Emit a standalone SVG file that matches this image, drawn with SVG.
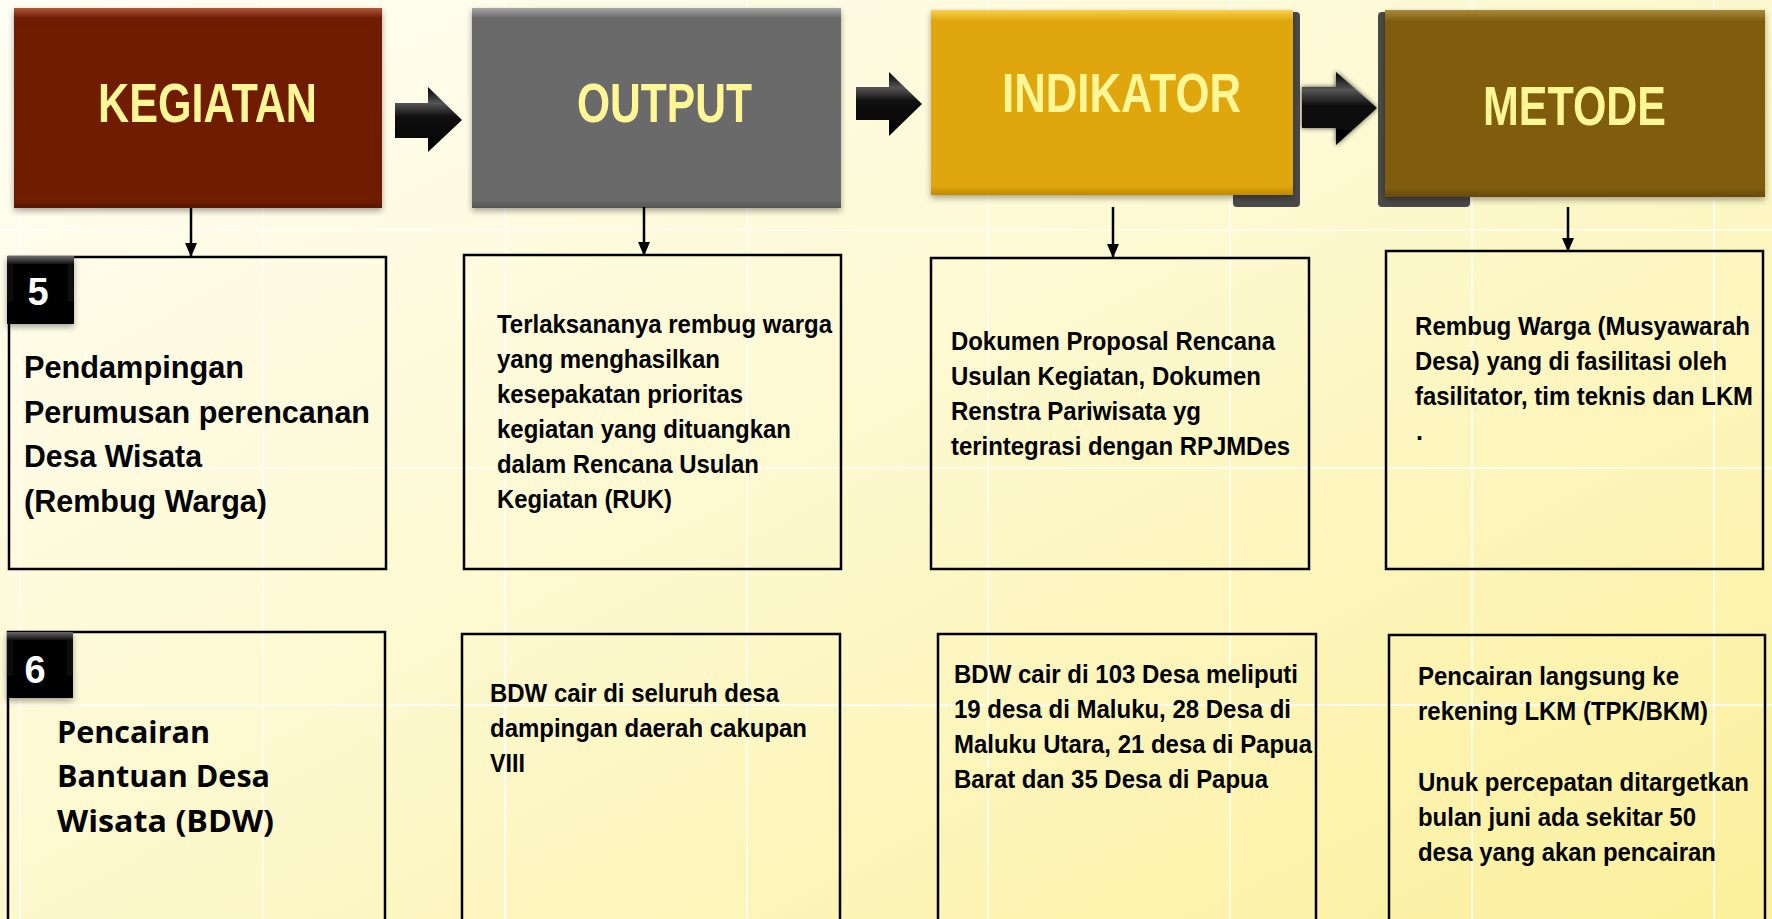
<svg xmlns="http://www.w3.org/2000/svg" width="1772" height="919" viewBox="0 0 1772 919">
<defs>
<linearGradient id="bg" x1="0" y1="0" x2="1" y2="1">
<stop offset="0" stop-color="#fffef5"/>
<stop offset="0.45" stop-color="#fdf9d2"/>
<stop offset="1" stop-color="#fcf09c"/>
</linearGradient>
<linearGradient id="gK" x1="0" y1="0" x2="0" y2="1">
<stop offset="0" stop-color="#b0583a"/><stop offset="0.05" stop-color="#6f1d05"/><stop offset="0.96" stop-color="#6f1d05"/><stop offset="1" stop-color="#5a1604"/>
</linearGradient>
<linearGradient id="gO" x1="0" y1="0" x2="0" y2="1">
<stop offset="0" stop-color="#a8a8a8"/><stop offset="0.05" stop-color="#6a6a6a"/><stop offset="0.96" stop-color="#6a6a6a"/><stop offset="1" stop-color="#555"/>
</linearGradient>
<linearGradient id="gI" x1="0" y1="0" x2="0" y2="1">
<stop offset="0" stop-color="#f7d150"/><stop offset="0.06" stop-color="#e0a608"/><stop offset="0.95" stop-color="#e0a608"/><stop offset="1" stop-color="#c08a05"/>
</linearGradient>
<linearGradient id="gM" x1="0" y1="0" x2="0" y2="1">
<stop offset="0" stop-color="#a88a3c"/><stop offset="0.06" stop-color="#7f5d10"/><stop offset="0.95" stop-color="#7f5d10"/><stop offset="1" stop-color="#654a0c"/>
</linearGradient>
<linearGradient id="gA" x1="0" y1="0" x2="0" y2="1">
<stop offset="0" stop-color="#000"/><stop offset="0.25" stop-color="#555"/><stop offset="0.45" stop-color="#111"/><stop offset="1" stop-color="#000"/>
</linearGradient>
<linearGradient id="gB" x1="0" y1="0" x2="0" y2="1">
<stop offset="0" stop-color="#6a6a6a"/><stop offset="0.12" stop-color="#111"/><stop offset="1" stop-color="#000"/>
</linearGradient>
<filter id="sh" x="-10%" y="-10%" width="120%" height="125%">
<feDropShadow dx="0" dy="3" stdDeviation="3" flood-color="#000" flood-opacity="0.35"/>
</filter>
<filter id="glow" x="-20%" y="-20%" width="140%" height="140%">
<feDropShadow dx="0" dy="0" stdDeviation="2.5" flood-color="#333" flood-opacity="0.9"/>
</filter>
<marker id="ah" markerWidth="14" markerHeight="12" refX="14" refY="6" orient="auto" markerUnits="userSpaceOnUse">
<path d="M0,0 L14,6 L0,12 z" fill="#000"/>
</marker>
<style>
.grid line{stroke:#ffffff;stroke-width:2;opacity:0.7}
.hdr{font-family:'Liberation Sans Narrow','Liberation Sans',Arial,sans-serif;font-weight:bold;font-size:56px;fill:#fff695}
.box{fill:none;stroke:#000;stroke-width:2.5}
.t{font-family:'Liberation Sans Narrow','Liberation Sans',Arial,sans-serif;font-weight:bold;fill:#000}
.t32{font-size:32px}
.t25{font-size:25px}
.cal{font-family:'Open Sans','Noto Sans',sans-serif;font-weight:bold;font-size:31px;fill:#000}
.num{font-family:'Liberation Sans Narrow','Liberation Sans',Arial,sans-serif;font-weight:bold;font-size:38px;fill:#fff}
.conn line{stroke:#000;stroke-width:2.5;marker-end:url(#ah)}
.blk{fill:url(#gA)}
</style>
</defs>
<rect x="0" y="0" width="1772" height="919" fill="url(#bg)"/>
<g class="grid">
<line x1="20" y1="0" x2="20" y2="919"/><line x1="263" y1="0" x2="263" y2="919"/><line x1="505" y1="0" x2="505" y2="919"/><line x1="747" y1="0" x2="747" y2="919"/><line x1="988" y1="0" x2="988" y2="919"/><line x1="1230" y1="0" x2="1230" y2="919"/><line x1="1472" y1="0" x2="1472" y2="919"/><line x1="1714" y1="0" x2="1714" y2="919"/>
<line x1="0" y1="230" x2="1772" y2="230"/><line x1="0" y1="468" x2="1772" y2="468"/><line x1="0" y1="705" x2="1772" y2="705"/>
</g>

<g id="hdr-kegiatan">
<rect x="14" y="8" width="368" height="200" fill="url(#gK)" filter="url(#sh)"/>
<text class="hdr" x="98" y="122" textLength="219" lengthAdjust="spacingAndGlyphs">KEGIATAN</text>
</g>
<g id="hdr-output">
<rect x="472" y="8" width="369" height="200" fill="url(#gO)" filter="url(#sh)"/>
<text class="hdr" x="577" y="122" textLength="175" lengthAdjust="spacingAndGlyphs">OUTPUT</text>
</g>
<g id="hdr-indikator">
<rect x="1233" y="12" width="67" height="195" rx="4" fill="#4a4a4a"/>
<rect x="931" y="10" width="362" height="185" fill="url(#gI)" filter="url(#sh)"/>
<text class="hdr" x="1002" y="112" textLength="239" lengthAdjust="spacingAndGlyphs">INDIKATOR</text>
</g>
<g id="hdr-metode">
<rect x="1378" y="12" width="92" height="195" rx="4" fill="#4a4a4a"/>
<rect x="1385" y="10" width="380" height="187" fill="url(#gM)" filter="url(#sh)"/>
<text class="hdr" x="1483" y="125" textLength="183" lengthAdjust="spacingAndGlyphs">METODE</text>
</g>

<g id="connectors">
<path class="blk" d="M395,103 L428,103 L428,87 L462,120 L428,152 L428,138 L395,138 Z"/>
<path class="blk" d="M856,87 L889,87 L889,72 L922,104 L889,136 L889,120 L856,120 Z"/>
<path class="blk" filter="url(#glow)" d="M1302,87 L1336,87 L1336,72 L1377,108 L1336,145 L1336,128 L1302,128 Z"/>
<g class="conn">
<line x1="191" y1="208" x2="191" y2="257"/>
<line x1="644" y1="207" x2="644" y2="256"/>
<line x1="1113" y1="207" x2="1113" y2="258"/>
<line x1="1568" y1="207" x2="1568" y2="252"/>
</g>
</g>

<g id="box-5-kegiatan">
<rect class="box" x="9" y="257" width="377" height="312"/>
<rect x="7" y="256" width="67" height="68" fill="url(#gB)" filter="url(#sh)"/>
<rect x="13" y="264" width="55" height="54" fill="#000"/>
<text class="num" x="38" y="305" text-anchor="middle">5</text>
<text class="t t32" x="24" y="378" textLength="220" lengthAdjust="spacingAndGlyphs">Pendampingan</text>
<text class="t t32" x="24" y="423" textLength="346" lengthAdjust="spacingAndGlyphs">Perumusan perencanan</text>
<text class="t t32" x="24" y="467" textLength="178" lengthAdjust="spacingAndGlyphs">Desa Wisata</text>
<text class="t t32" x="24" y="512" textLength="243" lengthAdjust="spacingAndGlyphs">(Rembug Warga)</text>
</g>
<g id="box-5-output">
<rect class="box" x="464" y="255" width="377" height="314"/>
<text class="t t25" x="497" y="333" textLength="335" lengthAdjust="spacingAndGlyphs">Terlaksananya rembug warga</text>
<text class="t t25" x="497" y="368" textLength="223" lengthAdjust="spacingAndGlyphs">yang menghasilkan</text>
<text class="t t25" x="497" y="403" textLength="246" lengthAdjust="spacingAndGlyphs">kesepakatan prioritas</text>
<text class="t t25" x="497" y="438" textLength="294" lengthAdjust="spacingAndGlyphs">kegiatan yang dituangkan</text>
<text class="t t25" x="497" y="473" textLength="262" lengthAdjust="spacingAndGlyphs">dalam Rencana Usulan</text>
<text class="t t25" x="497" y="508" textLength="175" lengthAdjust="spacingAndGlyphs">Kegiatan (RUK)</text>
</g>
<g id="box-5-indikator">
<rect class="box" x="931" y="258" width="378" height="311"/>
<text class="t t25" x="951" y="350" textLength="324" lengthAdjust="spacingAndGlyphs">Dokumen Proposal Rencana</text>
<text class="t t25" x="951" y="385" textLength="310" lengthAdjust="spacingAndGlyphs">Usulan Kegiatan, Dokumen</text>
<text class="t t25" x="951" y="420" textLength="250" lengthAdjust="spacingAndGlyphs">Renstra Pariwisata yg</text>
<text class="t t25" x="951" y="455" textLength="339" lengthAdjust="spacingAndGlyphs">terintegrasi dengan RPJMDes</text>
</g>
<g id="box-5-metode">
<rect class="box" x="1386" y="251" width="377" height="318"/>
<text class="t t25" x="1415" y="335" textLength="335" lengthAdjust="spacingAndGlyphs">Rembug Warga (Musyawarah</text>
<text class="t t25" x="1415" y="370" textLength="312" lengthAdjust="spacingAndGlyphs">Desa) yang di fasilitasi oleh</text>
<text class="t t25" x="1415" y="405" textLength="338" lengthAdjust="spacingAndGlyphs">fasilitator, tim teknis dan LKM</text>
<text class="t t25" x="1416" y="440">.</text>
</g>

<g id="box-6-kegiatan">
<rect class="box" x="8" y="632" width="377" height="300"/>
<rect x="7" y="632" width="66" height="66" fill="url(#gB)" filter="url(#sh)"/>
<rect x="13" y="640" width="54" height="52" fill="#000"/>
<text class="num" x="35" y="683" text-anchor="middle">6</text>
<text class="cal" x="57" y="743" textLength="153" lengthAdjust="spacingAndGlyphs">Pencairan</text>
<text class="cal" x="57" y="787" textLength="213" lengthAdjust="spacingAndGlyphs">Bantuan Desa</text>
<text class="cal" x="57" y="832" textLength="217" lengthAdjust="spacingAndGlyphs">Wisata (BDW)</text>
</g>
<g id="box-6-output">
<rect class="box" x="462" y="634" width="378" height="300"/>
<text class="t t25" x="490" y="702" textLength="289" lengthAdjust="spacingAndGlyphs">BDW cair di seluruh desa</text>
<text class="t t25" x="490" y="737" textLength="317" lengthAdjust="spacingAndGlyphs">dampingan daerah cakupan</text>
<text class="t t25" x="490" y="772" textLength="35" lengthAdjust="spacingAndGlyphs">VIII</text>
</g>
<g id="box-6-indikator">
<rect class="box" x="938" y="634" width="378" height="300"/>
<text class="t t25" x="954" y="683" textLength="344" lengthAdjust="spacingAndGlyphs">BDW cair di 103 Desa meliputi</text>
<text class="t t25" x="954" y="718" textLength="337" lengthAdjust="spacingAndGlyphs">19 desa di Maluku, 28 Desa di</text>
<text class="t t25" x="954" y="753" textLength="358" lengthAdjust="spacingAndGlyphs">Maluku Utara, 21 desa di Papua</text>
<text class="t t25" x="954" y="788" textLength="314" lengthAdjust="spacingAndGlyphs">Barat dan 35 Desa di Papua</text>
</g>
<g id="box-6-metode">
<rect class="box" x="1389" y="635" width="376" height="300"/>
<text class="t t25" x="1418" y="685" textLength="261" lengthAdjust="spacingAndGlyphs">Pencairan langsung ke</text>
<text class="t t25" x="1418" y="720" textLength="290" lengthAdjust="spacingAndGlyphs">rekening LKM (TPK/BKM)</text>
<text class="t t25" x="1418" y="791" textLength="331" lengthAdjust="spacingAndGlyphs">Unuk percepatan ditargetkan</text>
<text class="t t25" x="1418" y="826" textLength="278" lengthAdjust="spacingAndGlyphs">bulan juni ada sekitar 50</text>
<text class="t t25" x="1418" y="861" textLength="298" lengthAdjust="spacingAndGlyphs">desa yang akan pencairan</text>
</g>
</svg>
